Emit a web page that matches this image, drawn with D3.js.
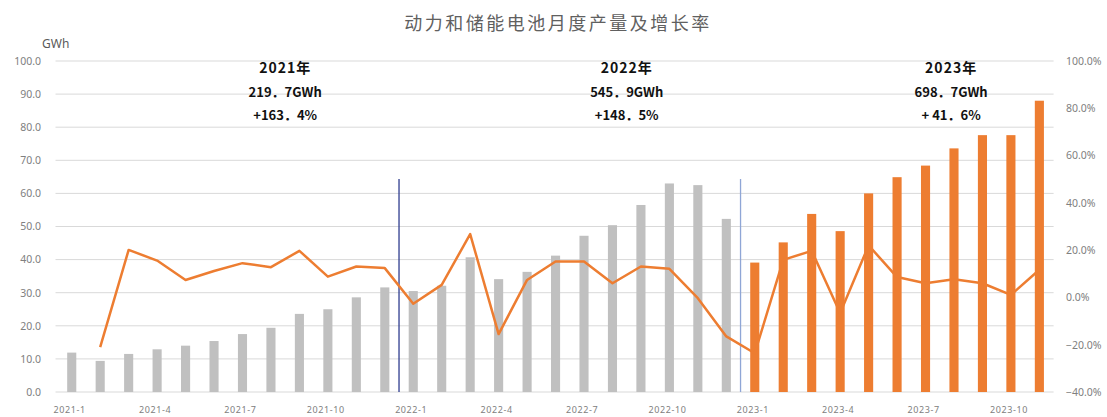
<!DOCTYPE html>
<html>
<head>
<meta charset="utf-8">
<script src="https://cdn.jsdelivr.net/npm/d3@7"></script>
<style>
  html, body { margin: 0; padding: 0; background: #ffffff; }
  svg { display: block; }
  text { font-family: "Noto Sans", "Liberation Sans", sans-serif; }
</style>
</head>
<body>
<div id="chart"></div>
<script>
// ---------- data ----------
const months = [
  "2021-1","2021-2","2021-3","2021-4","2021-5","2021-6","2021-7","2021-8","2021-9","2021-10","2021-11","2021-12",
  "2022-1","2022-2","2022-3","2022-4","2022-5","2022-6","2022-7","2022-8","2022-9","2022-10","2022-11","2022-12",
  "2023-1","2023-2","2023-3","2023-4","2023-5","2023-6","2023-7","2023-8","2023-9","2023-10","2023-11"
];
const production = [
  11.9, 9.4, 11.5, 12.9, 14.0, 15.4, 17.5, 19.4, 23.6, 25.0, 28.6, 31.6,
  30.5, 32.1, 40.7, 34.1, 36.3, 41.2, 47.2, 50.4, 56.5, 63.0, 62.5, 52.3,
  39.1, 45.2, 53.8, 48.6, 60.0, 64.9, 68.4, 73.6, 77.6, 77.6, 88.0
];
const growth = [
  null, -21.0, 20.1, 15.6, 7.4, 11.2, 14.5, 12.8, 19.7, 8.8, 13.1, 12.4,
  -2.7, 5.3, 26.8, -15.5, 7.4, 15.2, 15.2, 6.0, 13.1, 12.1, -0.3, -16.5,
  -23.6, 15.9, 19.7, -6.6, 22.0, 8.6, 6.0, 7.7, 6.0, 1.1, 11.7
];
const xTickLabels = ["2021-1","2021-4","2021-7","2021-10","2022-1","2022-4","2022-7","2022-10","2023-1","2023-4","2023-7","2023-10"];
const leftTicks = [0,10,20,30,40,50,60,70,80,90,100];
const rightTicks = [-40,-20,0,20,40,60,80,100];
const noteYears = ["2021年", "2022年", "2023年"];
const noteTotals = ["219．7GWh", "545．9GWh", "698．7GWh"];
const noteRates = ["+163．4%", "+148．5%", "+ 41．6%"];
const dividerMonths = ["2021-12", "2022-12"];
const title = "动力和储能电池月度产量及增长率";

// ---------- layout ----------
const W = 1107, H = 417;
const plot = {left: 57.5, right: 1053.6, top: 61, bottom: 392};
const noteAnchors = [7.5, 19.5, 30.9];       // band-index positions of annotation centres
const dividerColors = ["#2f3d8f", "#8fa6d6"];

const svg = d3.select("#chart").append("svg").attr("width", W).attr("height", H);

const x = d3.scaleBand().domain(months).range([plot.left, plot.right]);
const yL = d3.scaleLinear().domain([0, 100]).range([plot.bottom, plot.top]);
const yR = d3.scaleLinear().domain([-40, 100]).range([plot.bottom, plot.top]);

// gridlines
svg.append("g").selectAll("line").data(leftTicks).join("line")
  .attr("x1", plot.left - 2).attr("x2", plot.right)
  .attr("y1", d => yL(d)).attr("y2", d => yL(d))
  .attr("stroke", "#d9d9d9").attr("stroke-width", 1);

// left axis labels
const leftAxis = d3.axisLeft(yL).tickValues(leftTicks).tickFormat(d3.format(".1f")).tickSize(0).tickPadding(0);
const gL = svg.append("g").attr("transform", `translate(41,0)`).call(leftAxis);
gL.select(".domain").remove();
gL.selectAll("text").attr("fill", "#808080").style("font-size", "10.5px");

// right axis labels
const rightAxis = d3.axisRight(yR).tickValues(rightTicks).tickFormat(d => d3.format(".1f")(d) + "%").tickSize(0).tickPadding(0);
const gR = svg.append("g").attr("transform", `translate(1066,0)`).call(rightAxis);
gR.select(".domain").remove();
gR.selectAll("text").attr("fill", "#808080").style("font-size", "10.5px");

// x axis labels
const bottomAxis = d3.axisBottom(x).tickValues(xTickLabels).tickSize(0).tickPadding(0);
const gB = svg.append("g").attr("transform", `translate(-2,${plot.bottom + 15})`).call(bottomAxis);
gB.select(".domain").remove();
gB.selectAll("text").attr("fill", "#808080").style("font-size", "9px").style("letter-spacing", "0.6px");

// bars
const barW = x.bandwidth() * 0.32;
svg.append("g").selectAll("rect").data(months).join("rect")
  .attr("x", (m) => x(m) + x.bandwidth() / 2 - barW / 2)
  .attr("width", barW)
  .attr("y", (m, i) => yL(production[i]))
  .attr("height", (m, i) => yL(0) - yL(production[i]))
  .attr("fill", m => m.startsWith("2023") ? "#ed7d31" : "#c0c0c0");

// divider lines
svg.append("g").selectAll("line").data(dividerMonths).join("line")
  .attr("x1", d => x(d) + x.bandwidth())
  .attr("x2", d => x(d) + x.bandwidth())
  .attr("y1", 179).attr("y2", plot.bottom)
  .attr("stroke", (d, i) => dividerColors[i]).attr("stroke-width", 1.3);

// growth line
const line = d3.line()
  .defined(d => d.v !== null)
  .x(d => x(d.m) + x.bandwidth() / 2)
  .y(d => yR(d.v));
svg.append("path")
  .datum(months.map((m, i) => ({m, v: growth[i]})))
  .attr("d", line)
  .attr("fill", "none")
  .attr("stroke", "#ed7d31")
  .attr("stroke-width", 2.5)
  .attr("stroke-linejoin", "round");

// year annotations
const notes = svg.append("g");
noteYears.forEach((yr, j) => {
  const cx = plot.left + (noteAnchors[j] + 0.5) * x.step();
  [yr, noteTotals[j], noteRates[j]].forEach((t, k) => {
    notes.append("text")
      .attr("x", cx).attr("y", 73 + k * 23.5)
      .attr("text-anchor", "middle")
      .attr("fill", "#111")
      .style("font-family", '"Noto Sans CJK SC", "Noto Sans", sans-serif')
      .style("font-weight", "bold")
      .style("font-size", k === 0 ? "14px" : "13px")
      .style("letter-spacing", k === 0 ? "1px" : "0px")
      .text(t);
  });
});

// title
svg.append("text")
  .attr("x", 558).attr("y", 30)
  .attr("text-anchor", "middle")
  .attr("fill", "#606060")
  .style("font-family", '"Noto Sans CJK SC", sans-serif')
  .style("font-size", "18px")
  .style("letter-spacing", "2.5px")
  .text(title);

// unit
svg.append("text")
  .attr("x", 42).attr("y", 48)
  .attr("fill", "#595959")
  .style("font-size", "12px")
  .text("GWh");
</script>
</body>
</html>
